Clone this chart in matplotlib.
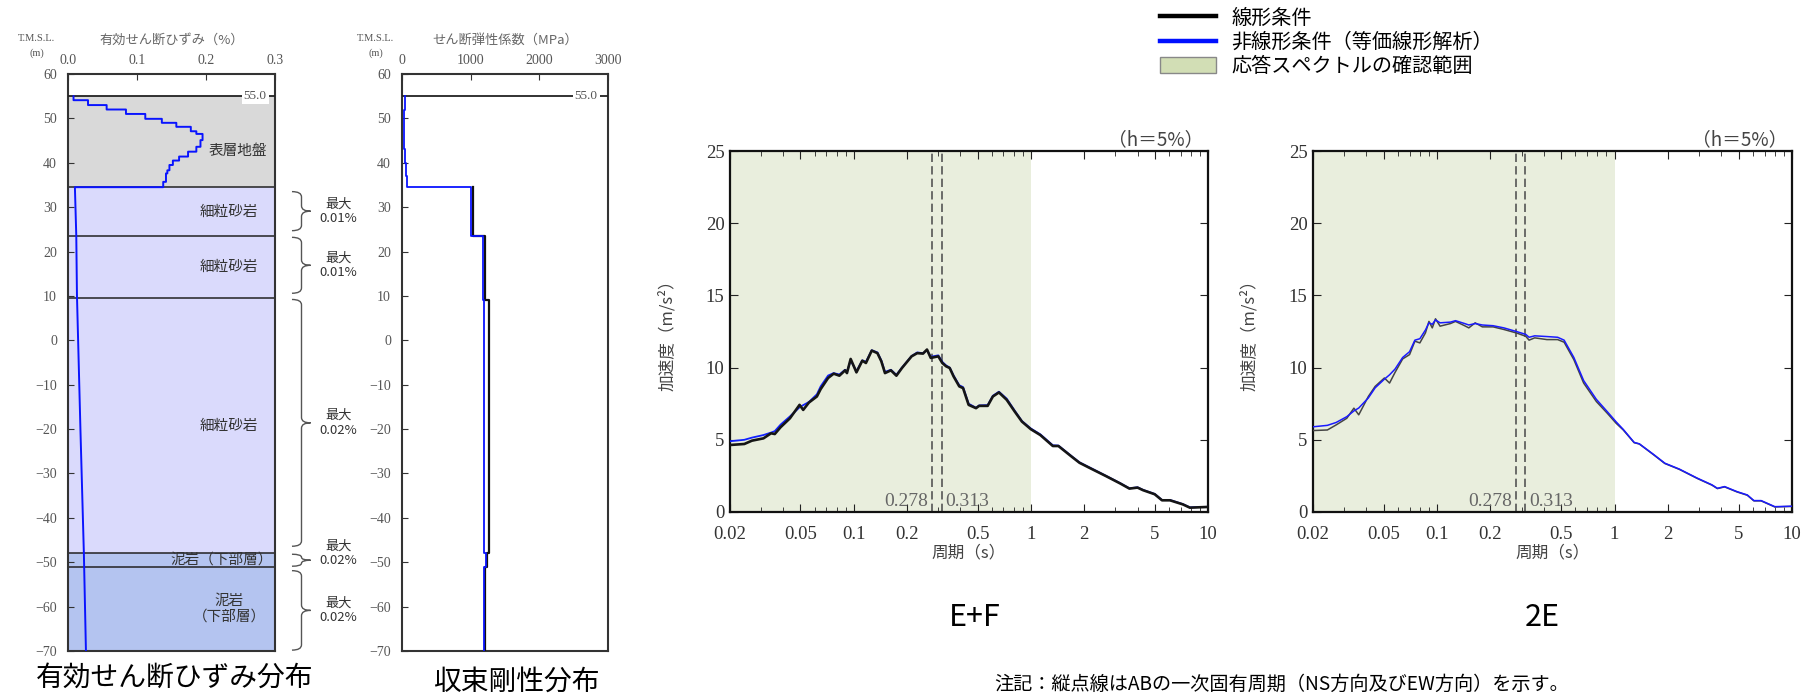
import matplotlib
matplotlib.use("Agg")
import matplotlib.pyplot as plt
import matplotlib.transforms as mtransforms
from matplotlib.lines import Line2D
from matplotlib.patches import Patch, PathPatch
from matplotlib.path import Path
from matplotlib.ticker import FixedLocator, LogLocator, NullFormatter

plt.rcParams["font.family"] = ["Noto Sans CJK JP", "DejaVu Sans"]
SERIF = ["Liberation Serif", "DejaVu Serif"]

# ---------------- data: soil profile ----------------
layer_bounds = [55.0, 34.5, 23.5, 9.5, -48.0, -51.0, -70.0]
layer_names = ["表層地盤", "細粒砂岩", "細粒砂岩", "細粒砂岩", "泥岩（下部層）", "泥岩\n（下部層）"]
layer_colors = ["#d9d9d9", "#dadafc", "#dadafc", "#dadafc", "#b4c4f0", "#b4c4f0"]

# effective shear strain (%) in surface layer: step boundaries and values
surf_bounds = [55.0, 54.1, 53.0, 52.0, 51.0, 49.9, 49.0, 48.1, 47.1, 46.5,
               45.1, 43.6, 42.5, 41.4, 40.5, 39.5, 38.3, 37.6, 35.7, 34.5]
surf_strain = [0.008, 0.029, 0.056, 0.084, 0.112, 0.136, 0.157, 0.178, 0.186,
               0.195, 0.192, 0.186, 0.174, 0.161, 0.152, 0.147, 0.144, 0.142, 0.138]
# rock part (smooth)
rock_elev = [34.5, 23.5, 10.0, -20.0, -48.0, -70.0]
rock_strain = [0.010, 0.012, 0.013, 0.018, 0.023, 0.026]

brace_spans = [(33.5, 24.7), (23.2, 10.6), (9.2, -46.4), (-48.2, -50.9), (-51.9, -69.8)]
brace_labels = ["最大\n0.01%", "最大\n0.01%", "最大\n0.02%", "最大\n0.02%", "最大\n0.02%"]

# shear modulus (MPa)
lin_bounds = [34.5, 23.5, 9.0, -48.0, -51.0, -70.0]
lin_G = [1040, 1215, 1265, 1240, 1215]
nl_bounds = [55.0, 52.0, 49.0, 46.0, 43.0, 40.0, 37.0, 34.5, 23.5, 9.0, -48.0, -51.0, -70.0]
nl_G = [50, 30, 25, 35, 45, 55, 70, 1005, 1180, 1195, 1225, 1190]

# ---------------- data: response spectra ----------------
T1 = [0.02, 0.0241, 0.0266, 0.0309, 0.0341, 0.0358, 0.0386, 0.0436, 0.0494, 0.0518,
      0.0558, 0.0619, 0.065, 0.0716, 0.077, 0.0829, 0.0893, 0.0915, 0.096, 0.1035,
      0.1117, 0.1171, 0.1263, 0.136, 0.143, 0.150, 0.162, 0.174, 0.187, 0.212,
      0.228, 0.246, 0.259, 0.272, 0.300, 0.316, 0.332, 0.348, 0.366, 0.394,
      0.414, 0.445, 0.49, 0.51, 0.57, 0.61, 0.66, 0.73, 0.81, 0.89,
      1.0, 1.13, 1.33, 1.43, 1.70, 1.88, 2.18, 2.66, 3.2, 3.6,
      4.0, 4.3, 5.0, 5.5, 6.1, 7.2, 7.9, 10.0]
A1_lin = [4.64, 4.71, 4.94, 5.10, 5.45, 5.40, 5.87, 6.49, 7.42, 7.07,
          7.58, 8.0, 8.51, 9.28, 9.58, 9.44, 9.81, 9.62, 10.6, 9.67,
          10.48, 10.32, 11.18, 11.0, 10.44, 9.62, 9.81, 9.44, 9.97, 10.78,
          11.0, 10.97, 11.25, 10.67, 10.78, 10.32, 10.09, 9.97, 9.39, 8.70,
          8.58, 7.42, 7.19, 7.35, 7.35, 8.0, 8.28, 7.77, 6.96, 6.26,
          5.73, 5.33, 4.57, 4.57, 3.83, 3.41, 3.01, 2.48, 1.97, 1.62,
          1.69, 1.51, 1.23, 0.81, 0.81, 0.53, 0.30, 0.35]
A1_nl = [4.90, 5.00, 5.15, 5.33, 5.50, 5.60, 6.05, 6.62, 7.25, 7.40,
         7.62, 8.15, 8.70, 9.45, 9.62, 9.52, 9.85, 9.70, 10.5, 9.75,
         10.5, 10.4, 11.2, 11.05, 10.50, 9.70, 9.85, 9.50, 10.0, 10.8,
         11.05, 11.0, 11.2, 10.75, 10.85, 10.4, 10.15, 10.0, 9.45, 8.78,
         8.65, 7.50, 7.22, 7.38, 7.40, 8.05, 8.33, 7.85, 7.02, 6.30,
         5.78, 5.38, 4.62, 4.60, 3.86, 3.44, 3.04, 2.50, 1.99, 1.64,
         1.71, 1.53, 1.25, 0.83, 0.83, 0.55, 0.32, 0.36]

T2 = [0.02, 0.0241, 0.027, 0.031, 0.034, 0.0362, 0.041, 0.0448, 0.0505, 0.054,
      0.058, 0.064, 0.070, 0.075, 0.080, 0.086, 0.090, 0.094, 0.098, 0.104,
      0.119, 0.127, 0.143, 0.151, 0.164, 0.180, 0.207, 0.238, 0.28, 0.316,
      0.33, 0.355, 0.416, 0.478, 0.52, 0.59, 0.67, 0.79, 0.91, 1.02,
      1.12, 1.29, 1.38, 1.67, 1.92, 2.32, 2.93, 3.54, 3.80, 4.17,
      4.9, 5.6, 6.1, 6.7, 8.0, 10.0]
A2_lin = [5.64, 5.68, 6.03, 6.49, 7.19, 6.73, 8.0, 8.70, 9.28, 8.93,
          9.67, 10.6, 10.9, 11.83, 11.71, 12.4, 13.2, 12.75, 13.38, 12.87,
          13.05, 13.2, 12.9, 12.75, 13.1, 12.82, 12.82, 12.64, 12.4, 12.17,
          11.9, 12.06, 11.94, 11.94, 11.76, 10.55, 8.93, 7.65, 6.84, 6.15,
          5.68, 4.80, 4.71, 3.94, 3.36, 2.95, 2.32, 1.86, 1.62, 1.74,
          1.39, 1.16, 0.77, 0.77, 0.35, 0.39]
A2_nl = [5.9, 6.0, 6.2, 6.6, 7.0, 7.2, 7.9, 8.6, 9.2, 9.5,
         9.9, 10.7, 11.1, 11.9, 12.0, 12.6, 13.1, 13.0, 13.3, 13.1,
         13.15, 13.25, 13.05, 12.95, 13.05, 12.95, 12.9, 12.75, 12.5, 12.3,
         12.1, 12.2, 12.15, 12.1, 11.9, 10.7, 9.1, 7.8, 6.95, 6.25,
         5.72, 4.82, 4.72, 3.96, 3.38, 2.97, 2.34, 1.88, 1.64, 1.76,
         1.41, 1.18, 0.79, 0.79, 0.37, 0.40]

ab_periods = [0.278, 0.313]
check_range = (0.02, 1.0)
period_ticks = [0.02, 0.05, 0.1, 0.2, 0.5, 1, 2, 5, 10]
period_labels = ["0.02", "0.05", "0.1", "0.2", "0.5", "1", "2", "5", "10"]

SHADE = "#e9eedd"
GRAY = "#555555"

W, H = 1811, 697
fig = plt.figure(figsize=(W / 100, H / 100), dpi=100)


def box(l, t, r, b):
    return [l / W, 1 - b / H, (r - l) / W, (b - t) / H]


def steps(bounds, values):
    xs, ys = [], []
    for i, v in enumerate(values):
        xs += [v, v]
        ys += [bounds[i], bounds[i + 1]]
    return xs, ys


def profile_axes(ax, xmax, xticks, xlabels, title, tmsl_x):
    ax.set_xlim(0, xmax)
    ax.set_ylim(-70, 60)
    ax.xaxis.tick_top()
    ax.set_xticks(xticks)
    ax.set_xticklabels(xlabels, fontfamily=SERIF)
    ax.set_yticks(range(-70, 61, 10))
    ax.tick_params(axis="x", direction="in", length=4, pad=5, labelsize=10, labelcolor=GRAY, color="#333")
    ax.tick_params(axis="y", direction="in", length=4, pad=8, labelsize=10, labelcolor=GRAY, color="#333")
    for lab in ax.get_yticklabels():
        lab.set_fontfamily(SERIF)
    for s in ax.spines.values():
        s.set_color("#333")
        s.set_linewidth(1.5)
    ax.text(tmsl_x, 1.062, "T.M.S.L.", transform=ax.transAxes, ha="center", va="center",
            fontsize=7.5, color=GRAY, family=SERIF)
    ax.text(tmsl_x, 1.036, "(m)", transform=ax.transAxes, ha="center", va="center",
            fontsize=7.5, color=GRAY, family=SERIF)
    ax.text(0.5, 1.058, title, transform=ax.transAxes, ha="center", va="center",
            fontsize=9.5, color="#666")
    ax.axhline(55.0, color="#222", lw=1.3, zorder=3)


# ---------------- strain panel ----------------
ax1 = fig.add_axes(box(68, 74, 275, 651))
for i, name in enumerate(layer_names):
    ax1.axhspan(layer_bounds[i + 1], layer_bounds[i], color=layer_colors[i], lw=0, zorder=0)
    if i > 0:
        ax1.axhline(layer_bounds[i], color="#222", lw=1.1, zorder=1)
    mid = (layer_bounds[i] + layer_bounds[i + 1]) / 2
    if i == 0:
        ax1.text(0.96, mid - 2.2, name, transform=ax1.get_yaxis_transform(), ha="right",
                 va="center", fontsize=10.5, color="#333")
    elif i == 5:
        ax1.text(0.78, mid, name, transform=ax1.get_yaxis_transform(), ha="center",
                 va="center", fontsize=10.5, color="#333", linespacing=1.2)
    elif i == 4:
        ax1.text(0.99, mid, name, transform=ax1.get_yaxis_transform(), ha="right",
                 va="center", fontsize=10.5, color="#333")
    else:
        ax1.text(0.92, mid, name, transform=ax1.get_yaxis_transform(), ha="right",
                 va="center", fontsize=10.5, color="#333")

sx, sy = steps(surf_bounds, surf_strain)
ax1.plot(sx + rock_strain, sy + rock_elev, color="#0a14ff", lw=1.4, zorder=4)
profile_axes(ax1, 0.3, [0, 0.1, 0.2, 0.3], ["0.0", "0.1", "0.2", "0.3"],
             "有効せん断ひずみ（%）", -0.152)
ax1.text(0.96, 55.0, "55.0", transform=ax1.get_yaxis_transform(), ha="right", va="center",
         fontsize=9.5, color=GRAY, family=SERIF, zorder=5,
         bbox=dict(facecolor="white", edgecolor="none", pad=1.5))

# braces to the right of the strain panel
btrans = mtransforms.blended_transform_factory(ax1.transAxes, ax1.transData)
for (y_top, y_bot), lab in zip(brace_spans, brace_labels):
    x0, xm, xt = 1.082, 1.128, 1.172
    d = min(1.2, (y_top - y_bot) / 4)
    ym = (y_top + y_bot) / 2
    verts = [(x0, y_top), (xm, y_top), (xm, y_top - d), (xm, ym + d),
             (xm, ym), (xt, ym), (xm, ym), (xm, ym - d),
             (xm, y_bot + d), (xm, y_bot), (x0, y_bot)]
    codes = [Path.MOVETO, Path.CURVE3, Path.CURVE3, Path.LINETO,
             Path.CURVE3, Path.CURVE3, Path.CURVE3, Path.CURVE3,
             Path.LINETO, Path.CURVE3, Path.CURVE3]
    ax1.add_patch(PathPatch(Path(verts, codes), transform=btrans, fill=False,
                            edgecolor="#555", lw=1.0, clip_on=False))
    ty = ym + 1.5 if (y_top - y_bot) < 5 else ym
    ax1.text(1.305, ty, lab, transform=btrans, ha="center", va="center", fontsize=9.5,
             color="#333", linespacing=1.15)

# ---------------- shear modulus panel ----------------
ax2 = fig.add_axes(box(402, 74, 608, 651))
gx, gy = steps(lin_bounds, lin_G)
ax2.plot(gx, gy, color="#111", lw=1.6, zorder=3)
bx, by = steps(nl_bounds, nl_G)
ax2.plot(bx, by, color="#0a14ff", lw=1.3, zorder=4)
profile_axes(ax2, 3000, [0, 1000, 2000, 3000], ["0", "1000", "2000", "3000"],
             "せん断弾性係数（MPa）", -0.128)
ax2.text(0.95, 55.0, "55.0", transform=ax2.get_yaxis_transform(), ha="right", va="center",
         fontsize=9.5, color=GRAY, family=SERIF, zorder=5,
         bbox=dict(facecolor="white", edgecolor="none", pad=1.5))

fig.text(175 / W, 1 - 678 / H, "有効せん断ひずみ分布", ha="center", va="center", fontsize=20)
fig.text(516 / W, 1 - 682 / H, "収束剛性分布", ha="center", va="center", fontsize=20)


# ---------------- response spectra ----------------
def spectrum(ax, T_lin, A_lin, T_nl, A_nl, lin_kw, nl_kw):
    ax.axvspan(*check_range, color=SHADE, lw=0, zorder=0)
    ax.plot(T_lin, A_lin, **lin_kw)
    ax.plot(T_nl, A_nl, **nl_kw)
    for p in ab_periods:
        ax.axvline(p, color="#555", lw=1.2, ls=(0, (5, 2.5)), zorder=2)
    ax.annotate("0.278", xy=(ab_periods[0], 0.15), xytext=(-3, 0), textcoords="offset points",
                ha="right", va="bottom", fontsize=14, color="#666", family=SERIF)
    ax.annotate("0.313", xy=(ab_periods[1], 0.15), xytext=(3, 0), textcoords="offset points",
                ha="left", va="bottom", fontsize=14, color="#666", family=SERIF)
    ax.set_xscale("log")
    ax.set_xlim(0.02, 10)
    ax.set_ylim(0, 25)
    ax.xaxis.set_major_locator(FixedLocator(period_ticks))
    ax.set_xticklabels(period_labels, fontfamily=SERIF)
    ax.xaxis.set_minor_locator(LogLocator(base=10, subs=range(2, 10)))
    ax.xaxis.set_minor_formatter(NullFormatter())
    ax.set_yticks(range(0, 26, 5))
    for lab in ax.get_yticklabels():
        lab.set_fontfamily(SERIF)
    ax.tick_params(which="both", direction="in", top=True, right=True, color="#222")
    ax.tick_params(which="major", length=6, labelsize=13.5, labelcolor="#333")
    ax.tick_params(which="minor", length=3.5)
    ax.tick_params(axis="x", pad=10)
    ax.tick_params(axis="y", pad=4)
    for s in ax.spines.values():
        s.set_linewidth(1.6)
        s.set_color("#111")
    ax.text(-0.132, 0.5, "加速度（m/s²）", transform=ax.transAxes, rotation=90,
            ha="center", va="center", fontsize=12, color="#444")
    ax.text(0.5, -0.113, "周期（s）", transform=ax.transAxes, ha="center", va="center",
            fontsize=12, color="#444")
    ax.text(0.99, 1.03, "（h＝5%）", transform=ax.transAxes, ha="right", va="center",
            fontsize=13.5, color="#444")


ax3 = fig.add_axes(box(730, 151, 1208, 512))
spectrum(ax3, T1, A1_lin, T1, A1_nl,
         dict(color="#151515", lw=1.9, zorder=4),
         dict(color="#1020ff", lw=1.3, zorder=3))
ax4 = fig.add_axes(box(1313, 151, 1792, 512))
spectrum(ax4, T2, A2_lin, T2, A2_nl,
         dict(color="#444444", lw=1.1, zorder=3),
         dict(color="#1a1aff", lw=1.1, zorder=4))

fig.text(975 / W, 1 - 617 / H, "E+F", ha="center", va="center", fontsize=22)
fig.text(1542 / W, 1 - 617 / H, "2E", ha="center", va="center", fontsize=22)
fig.text(1282 / W, 1 - 684 / H, "注記：縦点線はABの一次固有周期（NS方向及びEW方向）を示す。",
         ha="center", va="center", fontsize=13.8)

handles = [Line2D([], [], color="black", lw=3.2),
           Line2D([], [], color="#0010ff", lw=3.2),
           Patch(facecolor="#d2deb5", edgecolor="#888888", lw=1.0)]
labels = ["線形条件", "非線形条件（等価線形解析）", "応答スペクトルの確認範囲"]
fig.legend(handles, labels, loc="upper left", bbox_to_anchor=(1160 / W, 1 - 8 / H),
           frameon=False, fontsize=14.5, handlelength=2.8, handleheight=0.85,
           handletextpad=0.75, labelspacing=0.15, borderpad=0, borderaxespad=0)

fig.savefig("out.png", dpi=100)
